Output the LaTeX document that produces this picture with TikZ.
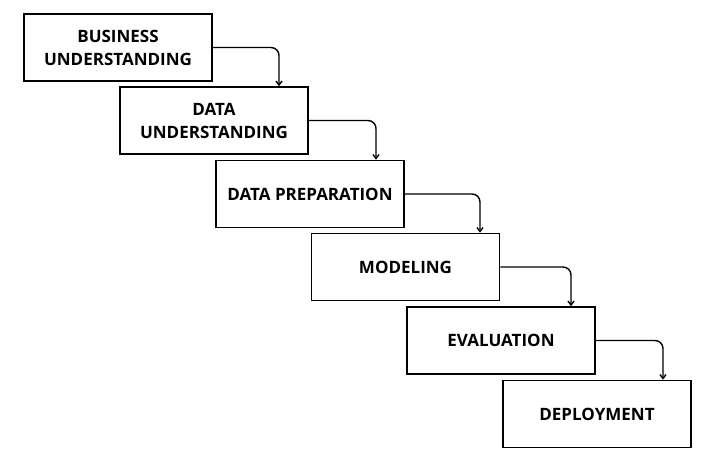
\documentclass[tikz,border=0pt]{standalone}
\usepackage{fontspec}
\setmainfont{Open Sans}
\usetikzlibrary{arrows.meta}
\tikzset{
	stage/.style={draw, line width=1.6pt, minimum width=188pt, minimum height=67pt, align=center, inner sep=2pt, font=\fontsize{17}{23}\selectfont\bfseries},
	flow/.style={-{Straight Barb[length=4pt,width=6pt]}, line width=1.4pt, rounded corners=8pt}
}
\begin{document}
\begin{tikzpicture}[x=1pt, y=-1pt]
	\useasboundingbox (0,0) rectangle (701,459);
	\node [stage] (business) at (118, 47.5) {BUSINESS\\UNDERSTANDING};
	\node [stage] (data) at (214, 120.5) {DATA\\UNDERSTANDING};
	\node [stage] (prep) at (310, 194) {DATA PREPARATION};
	\node [stage] (model) at (405.5, 267) {MODELING};
	\node [stage] (eval) at (501, 340.5) {EVALUATION};
	\node [stage] (deploy) at (597, 414) {DEPLOYMENT};
	\draw [flow] (business.east) -| ([xshift=65pt]data.north);
	\draw [flow] (data.east) -| ([xshift=66pt]prep.north);
	\draw [flow] (prep.east) -| ([xshift=74.5pt]model.north);
	\draw [flow] (model.east) -| ([xshift=70pt]eval.north);
	\draw [flow] (eval.east) -| ([xshift=66pt]deploy.north);
\end{tikzpicture}
\end{document}
